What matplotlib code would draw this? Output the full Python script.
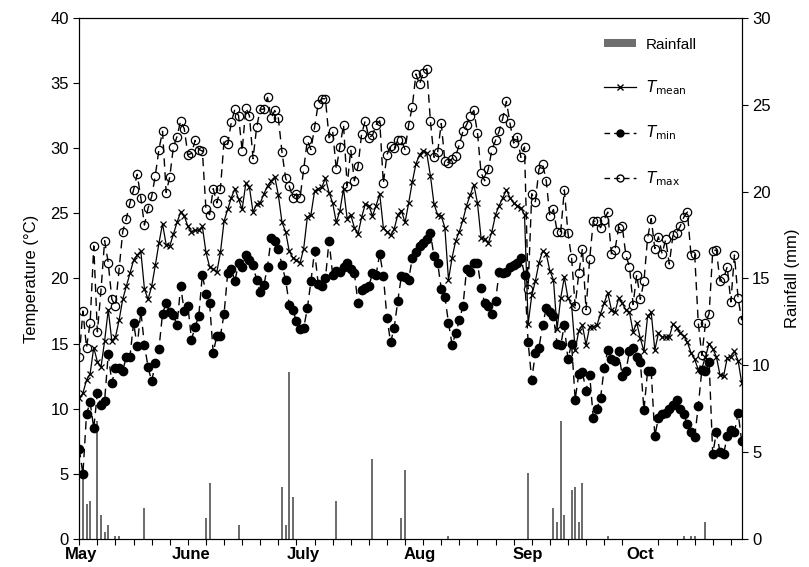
import numpy as np
import matplotlib
matplotlib.use("Agg")
import matplotlib.pyplot as plt
from matplotlib.patches import Patch
from matplotlib.lines import Line2D

plt.rcParams['font.family'] = ['Liberation Sans', 'DejaVu Sans']

# daily values from 1 May (day 0) to 31 Oct (day 183)
t_max = [14.0, 17.5, 14.7, 16.6, 22.5, 15.9, 19.1, 22.9, 21.2, 18.4,
         17.9, 20.7, 23.6, 24.6, 25.8, 26.8, 28.0, 26.2, 24.1, 25.4,
         26.3, 27.9, 29.9, 31.3, 26.6, 27.8, 30.1, 30.9, 32.1, 31.5,
         29.5, 29.6, 30.6, 29.9, 29.8, 25.3, 24.9, 26.9, 25.8, 26.9,
         30.6, 30.3, 32.0, 33.0, 32.5, 29.8, 33.1, 32.5, 29.2, 31.6,
         33.0, 33.0, 33.9, 32.3, 32.9, 32.3, 29.7, 27.7, 27.1, 26.2,
         26.5, 26.2, 28.4, 30.6, 29.9, 31.6, 33.4, 33.8, 33.8, 30.8,
         31.3, 28.4, 30.1, 31.8, 27.1, 29.9, 27.5, 28.6, 31.1, 32.1,
         30.8, 31.0, 31.8, 32.1, 27.3, 29.5, 30.2, 30.0, 30.6, 30.6,
         29.9, 31.8, 33.2, 35.7, 34.9, 35.8, 36.1, 32.1, 29.3, 29.7,
         31.9, 29.0, 28.9, 29.2, 29.4, 30.3, 31.3, 31.8, 32.5, 32.9,
         31.2, 28.1, 27.5, 28.4, 29.9, 30.6, 31.3, 32.3, 33.6, 31.9,
         30.4, 30.9, 29.3, 30.1, 19.2, 26.5, 25.9, 28.4, 28.8, 27.5,
         24.8, 25.3, 23.6, 23.6, 26.8, 23.5, 21.6, 17.9, 20.4, 22.3,
         17.6, 21.5, 24.4, 24.4, 23.9, 24.5, 25.1, 21.9, 22.2, 23.9,
         24.0, 21.8, 20.9, 18.0, 20.3, 18.4, 19.8, 23.1, 24.6, 22.3,
         23.2, 21.9, 23.0, 21.1, 23.3, 23.5, 24.0, 24.7, 25.1, 21.8,
         21.9, 16.6, 14.1, 16.6, 17.3, 22.1, 22.2, 19.8, 20.0, 20.9,
         18.2, 21.8, 18.5, 16.8]

t_mean = [10.8, 11.2, 12.2, 12.7, 14.7, 13.6, 13.2, 15.2, 17.6, 15.2,
          15.5, 16.8, 18.4, 19.4, 20.4, 21.4, 21.8, 22.1, 19.2, 18.4,
          19.4, 21.0, 22.7, 24.2, 22.6, 22.5, 23.4, 24.3, 25.1, 24.8,
          24.0, 23.6, 23.7, 23.7, 24.0, 22.0, 20.9, 20.7, 20.5, 22.0,
          24.4, 25.3, 26.2, 26.9, 26.1, 25.3, 27.3, 27.0, 25.1, 25.7,
          25.8, 26.5, 27.1, 27.5, 27.8, 26.4, 24.3, 23.6, 22.1, 21.6,
          21.4, 21.2, 22.3, 24.7, 24.9, 26.7, 26.9, 27.0, 27.7, 26.6,
          25.8, 24.3, 25.2, 26.9, 24.6, 24.9, 23.9, 23.4, 24.7, 25.7,
          25.6, 24.8, 25.6, 26.5, 23.9, 23.6, 23.3, 23.8, 24.9, 25.2,
          24.3, 25.8, 27.4, 28.8, 29.5, 29.8, 29.6, 27.9, 25.7, 24.9,
          24.8, 23.9, 19.9, 21.6, 22.9, 23.6, 24.5, 25.6, 26.4, 27.2,
          25.8, 23.1, 23.0, 22.7, 23.6, 24.9, 25.6, 26.2, 26.8, 26.2,
          25.8, 25.6, 25.4, 24.9, 16.5, 18.7, 19.8, 21.2, 22.1, 21.9,
          20.6, 19.9, 16.1, 18.5, 20.1, 18.5, 18.0, 14.5, 16.0, 16.4,
          14.9, 16.3, 16.3, 16.4, 17.3, 18.1, 18.9, 17.6, 17.4, 18.5,
          18.1, 17.6, 17.4, 15.9, 16.6, 15.4, 14.4, 17.1, 17.4, 14.5,
          15.8, 15.5, 15.5, 15.5, 16.5, 16.2, 15.8, 15.6, 15.1, 14.3,
          13.8, 13.0, 13.1, 14.0, 15.0, 14.6, 14.0, 12.6, 12.5, 13.9,
          14.0, 14.4, 13.7, 12.0]

t_min = [6.9, 5.0, 9.6, 10.5, 8.5, 11.2, 10.3, 10.6, 14.2, 12.0,
         13.1, 13.1, 12.9, 14.0, 14.0, 16.6, 14.8, 17.5, 14.9, 13.2,
         12.1, 13.5, 14.6, 17.3, 18.1, 17.4, 17.2, 16.4, 19.4, 17.5,
         17.9, 15.3, 16.3, 17.1, 20.3, 18.8, 18.1, 14.3, 15.6, 15.6,
         17.3, 20.4, 20.7, 19.8, 21.2, 20.9, 21.8, 21.4, 21.0, 19.9,
         19.0, 19.5, 20.9, 23.1, 22.9, 22.3, 21.0, 19.9, 18.0, 17.6,
         16.7, 16.1, 16.2, 17.7, 19.8, 22.1, 19.6, 19.4, 20.0, 22.9,
         20.3, 20.6, 20.5, 20.9, 21.2, 20.7, 20.4, 18.1, 19.1, 19.3,
         19.4, 20.4, 20.3, 21.9, 20.2, 17.0, 15.1, 16.2, 18.3, 20.2,
         20.1, 19.9, 21.6, 22.0, 22.5, 22.7, 23.0, 23.5, 21.7, 21.2,
         19.2, 18.6, 16.6, 14.9, 15.8, 16.8, 17.9, 20.7, 20.5, 21.2,
         21.2, 19.3, 18.1, 17.9, 17.3, 18.3, 20.5, 20.4, 20.5, 20.9,
         21.0, 21.2, 21.6, 20.3, 15.1, 12.2, 14.3, 14.7, 16.4, 17.7,
         17.4, 17.1, 15.0, 14.9, 16.4, 13.8, 15.0, 10.7, 12.7, 12.8,
         11.4, 12.6, 9.3, 10.0, 10.8, 13.1, 14.5, 13.8, 13.7, 14.4,
         12.5, 12.9, 14.4, 14.7, 14.0, 13.6, 9.9, 12.9, 12.9, 7.9,
         9.3, 9.6, 9.7, 10.0, 10.3, 10.7, 10.0, 9.6, 8.8, 8.2,
         7.8, 10.2, 13.0, 12.9, 13.6, 6.5, 8.2, 6.7, 6.5, 7.9,
         8.4, 8.2, 9.7, 7.5]

rain_day = [0, 1, 2, 3, 5, 6, 7, 8, 10, 11, 18, 35, 36, 44, 56, 57, 58, 59,
            71, 81, 89, 90, 102, 124, 131, 132, 133, 134, 136, 137, 138, 139,
            146, 167, 169, 170, 173]
rain_mm = [2.0, 3.8, 2.0, 2.2, 6.8, 1.4, 0.4, 0.8, 0.2, 0.2, 1.8, 1.2, 3.2, 0.8,
           3.0, 0.8, 9.6, 2.4, 2.2, 4.6, 1.2, 4.0, 0.2, 3.8, 1.8, 1.0, 6.8, 1.4,
           2.8, 3.0, 1.0, 3.2, 0.2, 0.2, 0.2, 0.2, 1.0]

month_names = ['May', 'June', 'July', 'Aug', 'Sep', 'Oct']
month_pos = [0.5, 31, 62, 94, 124, 155]

days = np.arange(len(t_max))

fig = plt.figure(figsize=(8.09, 5.67), dpi=100)
ax = fig.add_axes([0.098, 0.0494, 0.8188, 0.9189])
ax2 = ax.twinx()

# rainfall behind the temperature lines
ax2.bar(rain_day, rain_mm, width=0.55, color='#6e6e6e', linewidth=0)
ax.set_zorder(ax2.get_zorder() + 1)
ax.patch.set_visible(False)

ax.plot(days, t_mean, color='black', lw=0.9, marker='x', ms=5, mew=0.9)
ax.plot(days, t_min, color='black', lw=1.0, ls=(0, (6, 4)), marker='o', ms=6,
        mfc='black', mec='black')
ax.plot(days, t_max, color='black', lw=1.0, ls=(0, (6, 4)), marker='o', ms=6,
        mfc='none', mec='black', mew=0.9)

ax.set_xlim(0, 183)
ax.set_ylim(0, 40)
ax2.set_ylim(0, 30)
ax.set_yticks(np.arange(0, 41, 5))
ax2.set_yticks(np.arange(0, 31, 5))

ax.set_xticks(month_pos)
ax.set_xticklabels(month_names, fontsize=12, fontweight='bold')
ax.set_xticks(np.arange(0, 184, 5), minor=True)
ax.tick_params(axis='x', which='major', length=0, pad=6)
ax.tick_params(axis='x', which='minor', length=4, width=0.8)
ax.tick_params(axis='y', labelsize=12, length=4, width=0.8)
ax2.tick_params(axis='y', labelsize=12, length=4, width=0.8)

ax.set_ylabel('Temperature (°C)', fontsize=12, labelpad=8)
ax2.set_ylabel('Rainfall (mm)', fontsize=12, labelpad=10)

for a in (ax, ax2):
    for s in a.spines.values():
        s.set_linewidth(0.8)

handles = [
    Patch(facecolor='#6e6e6e', edgecolor='none'),
    Line2D([], [], color='black', lw=0.9, marker='x', ms=5),
    Line2D([], [], color='black', lw=1.0, ls=(0, (4, 3)), marker='o', ms=5,
           mfc='black'),
    Line2D([], [], color='black', lw=1.0, ls=(0, (4, 3)), marker='o', ms=5,
           mfc='none'),
]
labels = ['Rainfall', r'$T_{\rm mean}$', r'$T_{\rm min}$', r'$T_{\rm max}$']
ax.legend(handles, labels, loc='upper right', bbox_to_anchor=(0.878, 0.958),
          bbox_transform=fig.transFigure, frameon=False, fontsize=11,
          labelspacing=1.75, handlelength=2.1, handleheight=0.5,
          handletextpad=0.6, numpoints=1)

fig.savefig('out.png', dpi=100)
